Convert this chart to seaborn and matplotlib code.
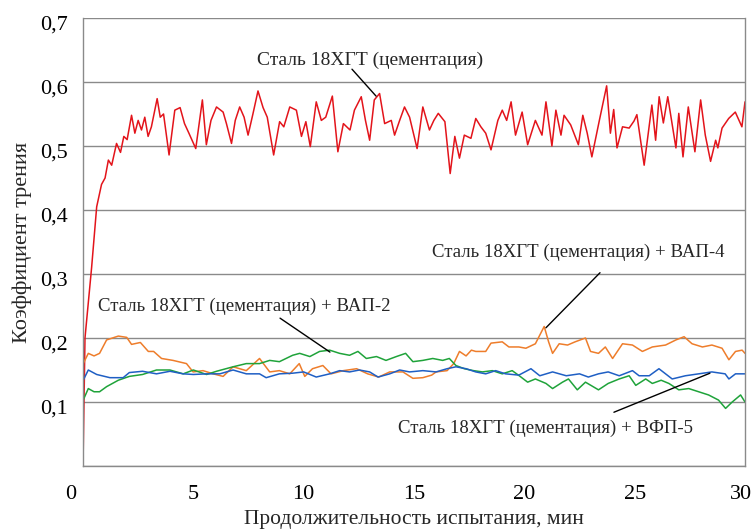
import matplotlib
matplotlib.use("Agg")
import matplotlib.pyplot as plt
import matplotlib.transforms as mtransforms
import seaborn as sns

# ---- data ----
red_x = [0, 0.09, 0.39, 0.62, 0.84, 1.0, 1.15, 1.3, 1.52, 1.7, 1.85, 2.0, 2.2, 2.35, 2.5, 2.65, 2.8, 2.95,
         3.1, 3.36, 3.5, 3.65, 3.9, 4.16, 4.4, 4.6, 4.8, 5.11, 5.41, 5.59, 5.8, 6.05, 6.35, 6.5, 6.73, 6.9,
         7.1, 7.3, 7.48, 7.7, 7.93, 8.16, 8.35, 8.64, 8.91, 9.1, 9.37, 9.67, 9.9, 10.1, 10.3, 10.57, 10.8,
         11.0, 11.3, 11.55, 11.8, 12.1, 12.3, 12.61, 12.8, 12.99, 13.2, 13.44, 13.67, 13.97, 14.12, 14.35,
         14.57, 14.8, 15.14, 15.4, 15.7, 15.9, 16.1, 16.4, 16.64, 16.85, 17.06, 17.28, 17.58, 17.8, 18.03,
         18.25, 18.49, 18.8, 19.0, 19.2, 19.4, 19.6, 19.9, 20.15, 20.5, 20.8, 20.98, 21.25, 21.43, 21.66,
         21.8, 22.1, 22.45, 22.65, 22.85, 23.06, 23.4, 23.73, 23.9, 24.05, 24.2, 24.45, 24.75, 24.97, 25.1,
         25.43, 25.78, 25.95, 26.11, 26.3, 26.5, 26.87, 27.0, 27.19, 27.43, 27.73, 27.99, 28.2, 28.44,
         28.67, 28.77, 28.96, 29.26, 29.56, 29.86, 30.0]
red_y = [0, 0.2, 0.31, 0.405, 0.44, 0.45, 0.478, 0.47, 0.504, 0.49, 0.515, 0.51, 0.548, 0.52, 0.54, 0.525,
         0.545, 0.515, 0.53, 0.574, 0.545, 0.55, 0.486, 0.556, 0.56, 0.535, 0.52, 0.496, 0.572, 0.502, 0.54,
         0.561, 0.553, 0.535, 0.504, 0.54, 0.561, 0.545, 0.517, 0.55, 0.586, 0.56, 0.545, 0.486, 0.538, 0.53,
         0.561, 0.556, 0.515, 0.538, 0.499, 0.569, 0.54, 0.545, 0.578, 0.491, 0.535, 0.525, 0.556, 0.577,
         0.54, 0.509, 0.572, 0.582, 0.535, 0.54, 0.517, 0.54, 0.561, 0.545, 0.496, 0.561, 0.525, 0.54,
         0.551, 0.538, 0.457, 0.515, 0.481, 0.517, 0.512, 0.543, 0.53, 0.52, 0.494, 0.54, 0.556, 0.54,
         0.569, 0.517, 0.553, 0.502, 0.54, 0.517, 0.569, 0.5, 0.556, 0.517, 0.548, 0.533, 0.502, 0.548,
         0.52, 0.483, 0.54, 0.594, 0.52, 0.557, 0.497, 0.53, 0.528, 0.539, 0.549, 0.47, 0.564, 0.509,
         0.577, 0.536, 0.577, 0.497, 0.551, 0.483, 0.561, 0.491, 0.572, 0.517, 0.476, 0.509, 0.497,
         0.528, 0.543, 0.553, 0.53, 0.569]

orange_x = [0.0, 0.01, 0.24, 0.5, 0.75, 1.07, 1.6, 1.98, 2.2, 2.6, 2.96, 3.2, 3.56, 4.08, 4.69, 4.99, 5.44,
            5.9, 6.35, 6.8, 7.4, 8.0, 8.46, 8.9, 9.37, 9.8, 10.05, 10.4, 10.87, 11.24, 11.8, 12.4, 12.9,
            13.4, 13.9, 14.5, 14.95, 15.4, 15.8, 16.0, 16.5, 16.8, 17.06, 17.36, 17.6, 17.8, 18.25, 18.49,
            19.0, 19.3, 19.75, 20.07, 20.5, 20.9, 21.1, 21.28, 21.58, 21.96, 22.3, 22.77, 23.0, 23.36,
            23.67, 24.0, 24.45, 24.9, 25.35, 25.8, 26.4, 26.87, 27.24, 27.6, 28.07, 28.5, 28.96, 29.27,
            29.57, 29.87, 30.0]
orange_y = [0.1, 0.16, 0.176, 0.172, 0.176, 0.197, 0.203, 0.201, 0.19, 0.193, 0.179, 0.179, 0.168, 0.165,
            0.16, 0.147, 0.149, 0.144, 0.14, 0.155, 0.149, 0.168, 0.147, 0.149, 0.144, 0.16, 0.14, 0.152,
            0.157, 0.144, 0.149, 0.152, 0.144, 0.139, 0.147, 0.147, 0.137, 0.138, 0.142, 0.147, 0.149,
            0.16, 0.179, 0.172, 0.181, 0.179, 0.179, 0.192, 0.194, 0.186, 0.186, 0.184, 0.191, 0.218,
            0.194, 0.176, 0.191, 0.189, 0.194, 0.2, 0.179, 0.176, 0.186, 0.168, 0.191, 0.189, 0.179,
            0.186, 0.189, 0.197, 0.202, 0.191, 0.186, 0.189, 0.184, 0.166, 0.179, 0.181, 0.176]

green_x = [0.0, 0.01, 0.24, 0.5, 0.75, 1.07, 1.6, 2.1, 2.7, 3.33, 3.94, 4.54, 5.0, 5.6, 6.05, 6.8, 7.4,
           8.0, 8.46, 8.9, 9.5, 9.82, 10.28, 10.72, 11.18, 11.63, 12.08, 12.46, 12.84, 13.3, 13.73, 14.2,
           14.62, 14.95, 15.4, 15.85, 16.3, 16.6, 16.9, 17.28, 17.7, 18.1, 18.55, 19.0, 19.45, 19.77,
           20.15, 20.5, 20.98, 21.28, 21.73, 22.0, 22.4, 22.77, 23.36, 23.8, 24.3, 24.75, 25.05, 25.5,
           25.8, 26.2, 26.55, 27.0, 27.45, 27.9, 28.35, 28.8, 29.12, 29.42, 29.8, 30.0]
green_y = [0.05, 0.103, 0.121, 0.116, 0.116, 0.124, 0.134, 0.14, 0.143, 0.15, 0.15, 0.144, 0.15, 0.143,
           0.148, 0.155, 0.16, 0.16, 0.165, 0.163, 0.173, 0.176, 0.171, 0.179, 0.181, 0.176, 0.173, 0.179,
           0.168, 0.171, 0.165, 0.171, 0.176, 0.163, 0.165, 0.168, 0.165, 0.168, 0.157, 0.152, 0.149,
           0.147, 0.149, 0.144, 0.149, 0.141, 0.131, 0.136, 0.129, 0.121, 0.131, 0.136, 0.119, 0.131,
           0.119, 0.129, 0.136, 0.141, 0.126, 0.136, 0.129, 0.134, 0.129, 0.119, 0.121, 0.116, 0.111,
           0.103, 0.09, 0.1, 0.111, 0.1]

blue_x = [0.0, 0.01, 0.24, 0.62, 1.22, 1.82, 2.1, 2.7, 3.33, 3.94, 4.54, 5.0, 5.6, 6.2, 6.8, 7.4, 8.0, 8.3,
          8.9, 9.5, 10.0, 10.57, 11.18, 11.63, 12.08, 12.53, 12.99, 13.37, 13.9, 14.35, 14.8, 15.4, 16.0,
          16.5, 16.9, 17.36, 17.8, 18.25, 18.7, 19.15, 19.75, 20.3, 20.7, 21.28, 21.9, 22.5, 22.9, 23.36,
          23.8, 24.3, 24.9, 25.2, 25.66, 26.1, 26.7, 27.3, 27.9, 28.5, 29.1, 29.27, 29.57, 30.0]
blue_y = [0.0, 0.134, 0.15, 0.143, 0.138, 0.138, 0.146, 0.148, 0.144, 0.148, 0.144, 0.143, 0.144, 0.144,
          0.15, 0.144, 0.144, 0.138, 0.144, 0.145, 0.147, 0.139, 0.144, 0.149, 0.147, 0.15, 0.147, 0.139,
          0.144, 0.15, 0.147, 0.149, 0.147, 0.152, 0.155, 0.152, 0.147, 0.144, 0.149, 0.144, 0.142, 0.152,
          0.141, 0.147, 0.141, 0.144, 0.139, 0.144, 0.147, 0.141, 0.149, 0.141, 0.141, 0.152, 0.136,
          0.141, 0.144, 0.147, 0.144, 0.136, 0.144, 0.144]

x_ticks = [0, 5, 10, 15, 20, 25, 30]
y_ticks = [0, 0.1, 0.2, 0.3, 0.4, 0.5, 0.6, 0.7]
y_tick_labels = ["", "0,1", "0,2", "0,3", "0,4", "0,5", "0,6", "0,7"]

labels = ["Сталь 18ХГТ (цементация)",
          "Сталь 18ХГТ (цементация) + ВАП-4",
          "Сталь 18ХГТ (цементация) + ВАП-2",
          "Сталь 18ХГТ (цементация) + ВФП-5"]
colors = ["#E3141B", "#EE7D2B", "#1FA33A", "#1F5FC4"]

# ---- style ----
sns.set_style("white")
plt.rcParams['font.family'] = ['Liberation Serif', 'DejaVu Serif']

fig = plt.figure(figsize=(7.54, 5.29), dpi=100)
ax = fig.add_axes([83/754, 1-466/529, (745-83)/754, (466-18)/529])

series = [(red_x, red_y), (orange_x, orange_y), (green_x, green_y), (blue_x, blue_y)]
for (sx, sy), c in zip(series, colors):
    sns.lineplot(x=sx, y=sy, ax=ax, color=c, linewidth=1.1, sort=False, estimator=None)

ax.set_xlim(0, 30)
ax.set_ylim(0, 0.7)
ax.set_xticks(x_ticks)
ax.set_xticklabels([str(t) for t in x_ticks])
ax.set_yticks(y_ticks)
ax.set_yticklabels(y_tick_labels)
ax.yaxis.grid(True, color="#8a8a8a", linewidth=1.0)
ax.xaxis.grid(False)
for side in ["left", "bottom", "right"]:
    ax.spines[side].set_color("#8a8a8a")
    ax.spines[side].set_linewidth(1.0)
ax.spines["top"].set_visible(False)
ax.tick_params(axis="both", direction="out", length=6, width=1.0, color="#8a8a8a",
               labelsize=16, labelcolor="black", pad=5)
ax.tick_params(axis="x", pad=8)

# small offsets of tick labels as in the reference
for lab in ax.get_yticklabels():
    lab.set_transform(lab.get_transform() + mtransforms.ScaledTranslation(0, -5/100, fig.dpi_scale_trans))
xlabs = ax.get_xticklabels()
xlabs[0].set_transform(xlabs[0].get_transform() + mtransforms.ScaledTranslation(-12/100, 0, fig.dpi_scale_trans))
xlabs[-1].set_transform(xlabs[-1].get_transform() + mtransforms.ScaledTranslation(-4/100, 0, fig.dpi_scale_trans))

ax.set_xlabel("Продолжительность испытания, мин", fontsize=15.5, labelpad=4)
ax.set_ylabel("Коэффициент трения", fontsize=16, labelpad=6)

# text labels and leader lines
ax.text(13.0, 0.634, labels[0], fontsize=14, ha="center", va="center")
ax.text(22.43, 0.334, labels[1], fontsize=13.5, ha="center", va="center")
ax.text(7.32, 0.250, labels[2], fontsize=13.5, ha="center", va="center")
ax.text(20.98, 0.059, labels[3], fontsize=13.5, ha="center", va="center")

lp = dict(arrowstyle="-", color="black", lw=1.0, shrinkA=0, shrinkB=0)
ax.annotate("", xy=(13.28, 0.578), xytext=(12.19, 0.620), arrowprops=lp)
ax.annotate("", xy=(20.98, 0.216), xytext=(23.43, 0.302), arrowprops=lp)
ax.annotate("", xy=(11.19, 0.178), xytext=(8.93, 0.231), arrowprops=lp)
ax.annotate("", xy=(28.41, 0.145), xytext=(24.06, 0.084), arrowprops=lp)

fig.savefig("out.png", dpi=100)
